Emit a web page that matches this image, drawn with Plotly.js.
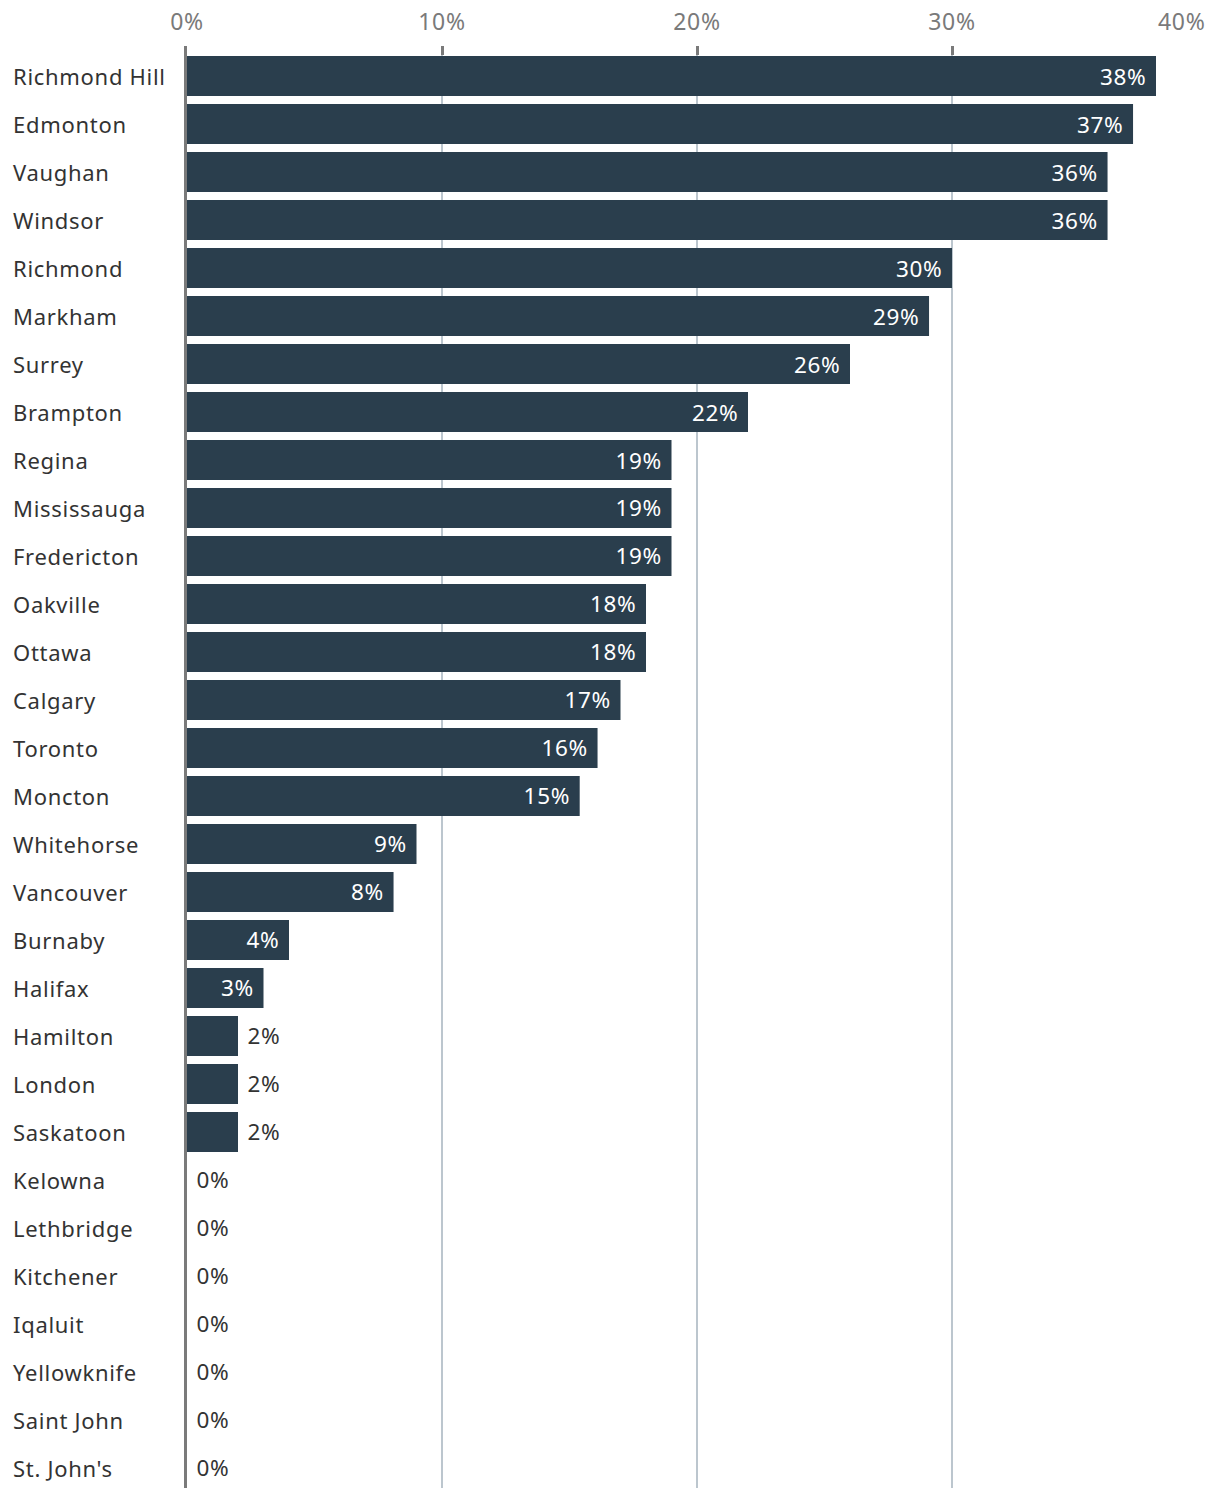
<!DOCTYPE html>
<html>
<head>
<meta charset="utf-8">
<script src="https://cdn.plot.ly/plotly-3.0.1.min.js"></script>
<style>
  html, body { margin: 0; padding: 0; background: #ffffff; }
  #chart { width: 1220px; height: 1498px; }
  svg text { letter-spacing: 0.7px; }
</style>
</head>
<body>
<div id="chart"></div>
<script>
// ---- Data ----
const cities = [
  "Richmond Hill", "Edmonton", "Vaughan", "Windsor", "Richmond", "Markham",
  "Surrey", "Brampton", "Regina", "Mississauga", "Fredericton", "Oakville",
  "Ottawa", "Calgary", "Toronto", "Moncton", "Whitehorse", "Vancouver",
  "Burnaby", "Halifax", "Hamilton", "London", "Saskatoon", "Kelowna",
  "Lethbridge", "Kitchener", "Iqaluit", "Yellowknife", "Saint John", "St. John's"
];
const shares = [
  38.0, 37.1, 36.1, 36.1, 30.0, 29.1,
  26.0, 22.0, 19.0, 19.0, 19.0, 18.0,
  18.0, 17.0, 16.1, 15.4, 9.0, 8.1,
  4.0, 3.0, 2.0, 2.0, 2.0, 0,
  0, 0, 0, 0, 0, 0
];
const tickVals = [0, 10, 20, 30, 40];
const tickLabels = ["0%", "10%", "20%", "30%", "40%"];

// ---- Styling ----
const FONT = "Noto Sans, Open Sans, sans-serif";
const BAR = "#2a3e4d";
const NB = "\u00a0";

const positions = shares.map(v => (v >= 3 ? "inside" : "outside"));
const labels = shares.map((v, i) => {
  const t = Math.round(v) + "%";
  return positions[i] === "inside" ? t + NB : NB + t;
});

const trace = {
  type: "bar",
  orientation: "h",
  y: cities,
  x: shares,
  marker: { color: BAR, line: { width: 0 } },
  text: labels,
  textposition: positions,
  insidetextanchor: "end",
  insidetextfont: { family: FONT, size: 22.5, color: "#ffffff" },
  outsidetextfont: { family: FONT, size: 22.5, color: "#333333" },
  constraintext: "none",
  cliponaxis: false,
  hoverinfo: "skip"
};

const annotations = cities.map(c => ({
  xref: "paper", yref: "y",
  x: 0, y: c,
  xanchor: "left", yanchor: "middle",
  xshift: -176,
  text: c,
  showarrow: false,
  font: { family: FONT, size: 22, color: "#333333" }
}));

annotations.push({
  xref: "x", yref: "paper",
  x: tickVals[4], y: 1,
  xanchor: "right", yanchor: "bottom",
  yshift: 7,
  xshift: 1,
  text: tickLabels[4],
  showarrow: false,
  font: { family: FONT, size: 23, color: "#7a7a7a" }
});

const layout = {
  width: 1220,
  height: 1498,
  margin: { l: 187, r: 13, t: 46, b: 10, pad: 0 },
  paper_bgcolor: "#ffffff",
  plot_bgcolor: "#ffffff",
  bargap: 1 / 6,
  showlegend: false,
  font: { family: FONT },
  xaxis: {
    side: "top",
    range: [0, 40],
    tickvals: tickVals,
    ticktext: tickLabels.map((t, i) => (i === tickLabels.length - 1 ? "" : t)),
    ticks: "inside",
    ticklen: 9,
    tickwidth: 3,
    tickcolor: "#7a7a7a",
    ticklabelstandoff: 10,
    tickfont: { family: FONT, size: 23, color: "#7a7a7a" },
    showgrid: true,
    gridcolor: "#bcc6ce",
    gridwidth: 2,
    zeroline: false,
    showline: false,
    fixedrange: true
  },
  yaxis: {
    type: "category",
    categoryorder: "array",
    categoryarray: cities,
    range: [29.417, -0.625],
    showticklabels: false,
    ticks: "",
    showgrid: false,
    zeroline: false,
    showline: true,
    linecolor: "#7a7a7a",
    linewidth: 3,
    fixedrange: true
  },
  annotations: annotations
};

Plotly.newPlot("chart", [trace], layout, { displayModeBar: false, staticPlot: true });
</script>
</body>
</html>
